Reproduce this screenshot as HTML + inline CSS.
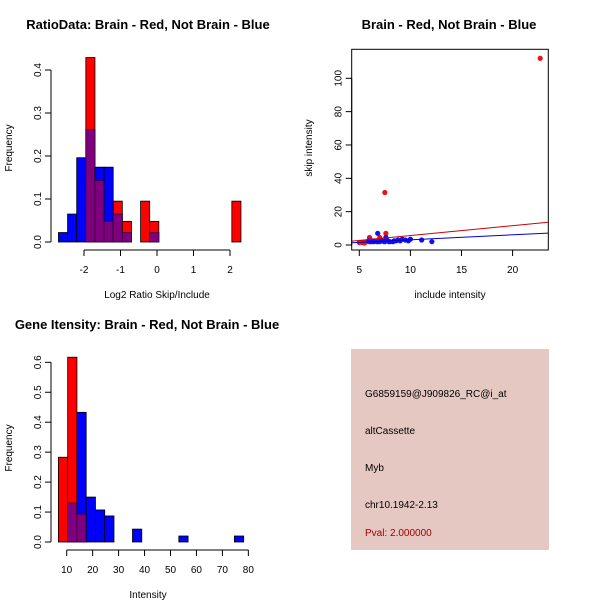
<!DOCTYPE html>
<html><head><meta charset="utf-8"><style>
body{margin:0;background:#fff}
svg{display:block;font-family:"Liberation Sans",sans-serif}
</style></head><body>
<svg id="c" width="600" height="600" xmlns="http://www.w3.org/2000/svg">
<rect width="600" height="600" fill="#fff"/>
<text x="148" y="29" font-size="13" font-weight="bold" text-anchor="middle">RatioData: Brain - Red, Not Brain - Blue</text>
<text x="449" y="29" font-size="13" font-weight="bold" text-anchor="middle">Brain - Red, Not Brain - Blue</text>
<text x="147" y="329" font-size="13" font-weight="bold" text-anchor="middle">Gene Itensity: Brain - Red, Not Brain - Blue</text>
<text x="157" y="298" font-size="10" text-anchor="middle">Log2 Ratio Skip/Include</text>
<text x="450" y="298" font-size="10" text-anchor="middle">include intensity</text>
<text x="148" y="598" font-size="10" text-anchor="middle">Intensity</text>
<text transform="translate(12,148) rotate(-90)" font-size="10" text-anchor="middle">Frequency</text>
<text transform="translate(312,148) rotate(-90)" font-size="10" text-anchor="middle">skip intensity</text>
<text transform="translate(12,448) rotate(-90)" font-size="10" text-anchor="middle">Frequency</text>
<g>
<rect x="351" y="349" width="198" height="201" fill="#e5c8c2"/>
<text x="365" y="397" font-size="10">G6859159@J909826_RC@i_at</text>
<text x="365" y="434" font-size="10">altCassette</text>
<text x="365" y="471" font-size="10">Myb</text>
<text x="365" y="508" font-size="10">chr10.1942-2.13</text>
<text x="365" y="536" font-size="10" fill="#a00000">Pval: 2.000000</text>
</g>
</svg>
<script>
// Ratio histogram data
const ratioStart = -2.7, ratioStep = 0.25;
const ratioBlue = [0.022,0.065,0.196,0.261,0.174,0.174,0.065,0.022,0,0,0.022,0,0,0,0,0,0,0,0,0];
const ratioRed  = [0,0,0,0.429,0.143,0.048,0.095,0.048,0,0.095,0.048,0,0,0,0,0,0,0,0,0.095];
const ratioXTicks = [-2,-1,0,1,2];
const ratioYTicks = [0,0.1,0.2,0.3,0.4];
// Intensity histogram data
const intStart = 6.8, intStep = 3.57;
const intBlue = [0,0.13,0.433,0.15,0.107,0.087,0,0,0.043,0,0,0,0,0.02,0,0,0,0,0,0.02];
const intRed  = [0.283,0.617,0.093,0,0,0,0,0,0,0,0,0,0,0,0,0,0,0,0,0];
const intXTicks = [10,20,30,40,50,60,70,80];
const intYTicks = [0,0.1,0.2,0.3,0.4,0.5,0.6];
// Scatter data
const redX = [22.7,7.5,7.6,6.0,7.0,5.0,5.3,5.6,5.9,6.2,6.5,6.8,7.2,7.4,7.8,5.5];
const redY = [112,31.5,7,4.5,4.5,1.5,1.5,1.8,2,2,2.5,2,2.5,2,2.5,1.2];
const blueX = [6.8,11.1,12.1,9.8,10.0,9.2,9.0,8.6,8.3,8.0,7.7,7.5,7.2,7.0,6.7,6.4,6.1,5.9,7.6,8.8,9.5,6.3,7.9,8.4];
const blueY = [7,3,2,2.5,3.5,3.5,2.5,2.5,2,2,3,2,2.5,2,2,2,2,2.5,4.5,3,3,2.5,2,2.5];
const redFit = [-0.2,0.59];
const blueFit = [0.1,0.3];
const scXTicks = [5,10,15,20];
const scYTicks = [0,20,40,60,80,100];

const svg = document.getElementById('c');
const NS = 'http://www.w3.org/2000/svg';
function mk(tag, attrs, parent){ const e=document.createElementNS(NS,tag); for(const k in attrs) e.setAttribute(k,attrs[k]); (parent||svg).appendChild(e); return e; }

function hist(prefix, start, step, blue, red, xs, ys, xTicks, yTicks, xAxisY, yAxisX){
  const g = mk('g',{});
  
  
  const n = Math.max(blue.length, red.length);
  for(let i=0;i<n;i++){
    const x0=xs(start+i*step), x1=xs(start+(i+1)*step);
    const b=blue[i]||0, r=red[i]||0;
    if(b>0){ const e=mk('rect',{x:x0,y:ys(b),width:x1-x0,height:ys(0)-ys(b),fill:'#0000ff',stroke:'#000','stroke-width':0.8},g);
        }
    if(r>0){ const e=mk('rect',{x:x0,y:ys(r),width:x1-x0,height:ys(0)-ys(r),fill:'#ff0000',stroke:'#000','stroke-width':0.8},g);
        }
    const m=Math.min(b,r);
    if(m>0){ const e=mk('rect',{x:x0,y:ys(m),width:x1-x0,height:ys(0)-ys(m),fill:'#7f007f',stroke:'#3a003a','stroke-width':0.8},g);
        }
  }
  axes(prefix, g, xs, ys, xTicks, yTicks, xAxisY, yAxisX);
}
function axes(prefix, g, xs, ys, xTicks, yTicks, xAxisY, yAxisX){
  const xa = mk('g',{},g);
   
  mk('line',{x1:xs(xTicks[0]),x2:xs(xTicks[xTicks.length-1]),y1:xAxisY,y2:xAxisY,stroke:'#000'},xa);
  xTicks.forEach(t=>{ mk('line',{x1:xs(t),x2:xs(t),y1:xAxisY,y2:xAxisY+6,stroke:'#000'},xa);
    const tx=mk('text',{x:xs(t),y:xAxisY+23,'font-size':10,'text-anchor':'middle'},xa); tx.textContent=t;
      });
  const ya = mk('g',{},g);
   
  mk('line',{x1:yAxisX,x2:yAxisX,y1:ys(yTicks[0]),y2:ys(yTicks[yTicks.length-1]),stroke:'#000'},ya);
  yTicks.forEach(t=>{ mk('line',{x1:yAxisX,x2:yAxisX-6,y1:ys(t),y2:ys(t),stroke:'#000'},ya);
    const tx=mk('text',{transform:`translate(${yAxisX-10},${ys(t)}) rotate(-90)`,'font-size':10,'text-anchor':'middle'},ya); tx.textContent=(prefix==='scatter')?t:t.toFixed(1);
      });
}
hist('ratio', ratioStart, ratioStep, ratioBlue, ratioRed, v=>157+v*36.5, v=>242-v*430, ratioXTicks, ratioYTicks, 250, 51);
hist('intensity', intStart, intStep, intBlue, intRed, v=>66.7+(v-10)*2.595, v=>542-v*299.5, intXTicks, intYTicks, 550, 51);

// Scatter
const sx=v=>359.3+(v-5)*10.22, sy=v=>245-v*1.667;
const sg=mk('g',{});
 
const clip=mk('clipPath',{id:'sclip'},sg); mk('rect',{x:352,y:49,width:196,height:201},clip);
const box=mk('rect',{x:351.7,y:49.3,width:196.6,height:200.7,fill:'none',stroke:'#000'},sg);
 
redX.forEach((x,i)=>{ const c=mk('circle',{cx:sx(x),cy:sy(redY[i]),r:2.6,fill:'#ee1111'},sg);
    });
blueX.forEach((x,i)=>{ const c=mk('circle',{cx:sx(x),cy:sy(blueY[i]),r:2.6,fill:'#1111ee'},sg);
    });
[[redFit,'#cc0000','brain-fit-line'],[blueFit,'#0000cc','not-brain-fit-line']].forEach(([f,col,nm])=>{
  const l=mk('line',{x1:sx(4),y1:sy(f[0]+f[1]*4),x2:sx(24),y2:sy(f[0]+f[1]*24),stroke:col,'clip-path':'url(#sclip)'},sg);
    });
axes('scatter', sg, sx, sy, scXTicks, scYTicks, 250, 351.7);
</script>
</body></html>
